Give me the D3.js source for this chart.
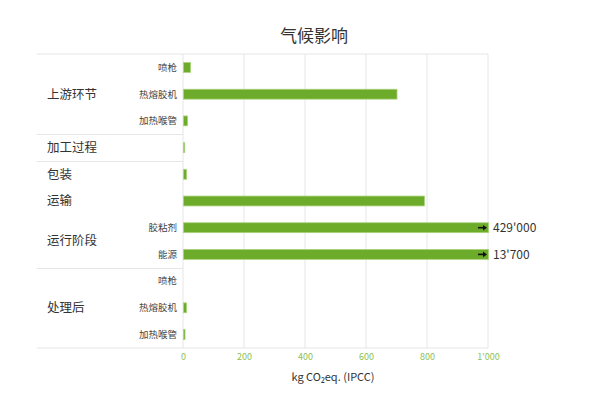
<!DOCTYPE html>
<html>
<head>
<meta charset="utf-8">
<script src="https://cdn.jsdelivr.net/npm/d3@7"></script>
<style>
  body { margin: 0; background: #fff; }
  text { font-family: "Noto Sans CJK SC", "Noto Sans", sans-serif; }
</style>
</head>
<body>
<script>
// rows of the chart, top to bottom
var rowLabels = ["喷枪", "热熔胶机", "加热喉管", "", "", "", "胶粘剂", "能源", "喷枪", "热熔胶机", "加热喉管"];
var rowGroups = ["上游环节", "上游环节", "上游环节", "加工过程", "包装", "运输", "运行阶段", "运行阶段", "处理后", "处理后", "处理后"];
var rowValues = [23, 700, 13, 4, 10, 790, 429000, 13700, 0, 10, 5];
// separator lines fall between these stages
var rowStages = [0, 0, 0, 1, 2, 2, 2, 2, 3, 3, 3];
var xTicks = [0, 200, 400, 600, 800, 1000];
var xMax = 1000;
var title = "气候影响";

var loc = d3.formatLocale({ decimal: ".", thousands: "'", grouping: [3], currency: ["", ""] });
var fmt = loc.format(",");

var svg = d3.select("body").append("svg")
  .attr("width", 600)
  .attr("height", 400);

var left = 183, right = 488, plotTop = 54, plotBottom = 348, labelLeft = 37;

var x = d3.scaleLinear()
  .domain([0, xMax])
  .range([left, right])
  .clamp(true);

var idx = d3.range(rowValues.length);
var y = d3.scaleBand()
  .domain(idx)
  .range([plotTop, plotBottom])
  .paddingInner(0.63)
  .paddingOuter(0.32);

function mid(i) { return y(i) + y.bandwidth() / 2; }

// title
svg.append("text")
  .attr("x", 314)
  .attr("y", 42)
  .attr("text-anchor", "middle")
  .attr("font-size", 17)
  .attr("fill", "#333")
  .text(title);

// vertical gridlines
svg.append("g")
  .selectAll("line")
  .data(xTicks)
  .enter().append("line")
  .attr("x1", function (d) { return x(d); })
  .attr("x2", function (d) { return x(d); })
  .attr("y1", plotTop)
  .attr("y2", plotBottom)
  .attr("stroke", "#e6e6e6")
  .attr("stroke-width", 1);

// top and bottom border
svg.append("line")
  .attr("x1", labelLeft).attr("x2", right)
  .attr("y1", plotTop).attr("y2", plotTop)
  .attr("stroke", "#e6e6e6");
svg.append("line")
  .attr("x1", labelLeft).attr("x2", right)
  .attr("y1", plotBottom).attr("y2", plotBottom)
  .attr("stroke", "#e6e6e6");

// stage separators in the label column
var seps = idx.filter(function (i) { return i > 0 && rowStages[i] !== rowStages[i - 1]; });
function sepY(i) { return Math.round(y(i) - y.step() * y.paddingInner() / 2) + 0.5; }
svg.append("g")
  .selectAll("line")
  .data(seps)
  .enter().append("line")
  .attr("x1", labelLeft)
  .attr("x2", left)
  .attr("y1", sepY)
  .attr("y2", sepY)
  .attr("stroke", "#e6e6e6");

// group labels
var groups = Array.from(new Set(rowGroups));
svg.append("g")
  .selectAll("text")
  .data(groups)
  .enter().append("text")
  .attr("x", 47)
  .attr("y", function (g) {
    var rows = idx.filter(function (i) { return rowGroups[i] === g; });
    return d3.mean(rows, mid);
  })
  .attr("dy", "0.35em")
  .attr("font-size", 12.5)
  .attr("fill", "#333")
  .text(function (g) { return g; });

// row labels
svg.append("g")
  .selectAll("text")
  .data(idx.filter(function (i) { return rowLabels[i] !== ""; }))
  .enter().append("text")
  .attr("x", 177)
  .attr("y", mid)
  .attr("dy", "0.35em")
  .attr("text-anchor", "end")
  .attr("font-size", 9.5)
  .attr("fill", "#444")
  .text(function (i) { return rowLabels[i]; });

// bars
svg.append("g")
  .selectAll("rect")
  .data(idx.filter(function (i) { return rowValues[i] > 0; }))
  .enter().append("rect")
  .attr("x", x(0) + 0.5)
  .attr("y", function (i) { return y(i); })
  .attr("width", function (i) { return Math.max(x(rowValues[i]) - x(0), 1); })
  .attr("height", y.bandwidth())
  .attr("fill", "#6dab2a")
  .attr("stroke", "#a9d37a")
  .attr("stroke-width", 0.8);

// overflow arrows and values
var over = idx.filter(function (i) { return rowValues[i] > xMax; });
var ov = svg.append("g")
  .selectAll("g")
  .data(over)
  .enter().append("g")
  .attr("transform", function (i) { return "translate(" + x(xMax) + "," + mid(i) + ")"; });

ov.append("line")
  .attr("x1", -10).attr("x2", -4)
  .attr("y1", 0).attr("y2", 0)
  .attr("stroke", "#111")
  .attr("stroke-width", 1.6);
ov.append("path")
  .attr("d", "M-5,-2.8L-1,0L-5,2.8Z")
  .attr("fill", "#111");
ov.append("text")
  .attr("x", 5)
  .attr("dy", "0.35em")
  .attr("font-family", "'Noto Sans', sans-serif")
  .attr("font-size", 12)
  .attr("fill", "#333")
  .text(function (i) { return fmt(rowValues[i]); });

// x axis tick labels
svg.append("g")
  .attr("transform", "translate(0," + plotBottom + ")")
  .call(d3.axisBottom(x).tickValues(xTicks).tickSize(0).tickPadding(6).tickFormat(fmt))
  .call(function (g) { g.select(".domain").remove(); })
  .call(function (g) {
    g.selectAll("text")
      .attr("font-family", "'Noto Sans', sans-serif")
      .attr("font-size", 9)
      .attr("fill", "#8cc152");
  });

// axis title
svg.append("text")
  .attr("x", 333)
  .attr("y", 381)
  .attr("text-anchor", "middle")
  .attr("font-size", 11)
  .attr("fill", "#333")
  .text("kg CO₂eq. (IPCC)");
</script>
</body>
</html>
